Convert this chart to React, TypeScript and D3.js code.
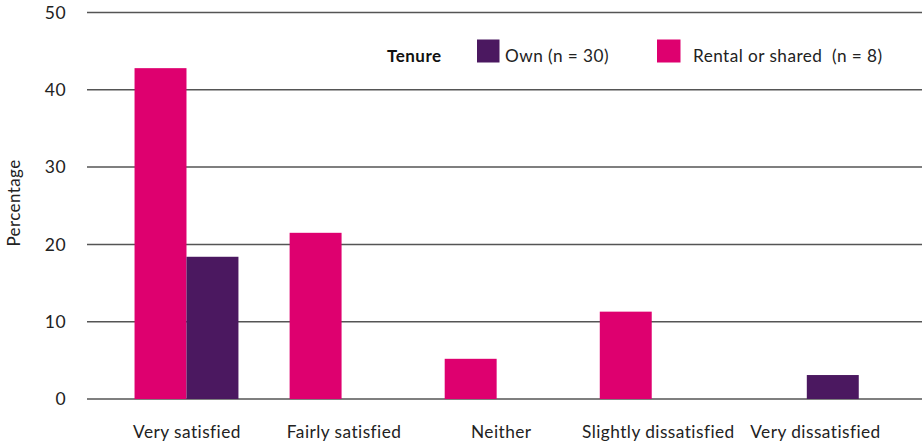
import React from "react";
import * as d3 from "d3";

const categories = ["Very satisfied", "Fairly satisfied", "Neither", "Slightly dissatisfied", "Very dissatisfied"];
const seriesKeys = ["Rental", "Own"];
const rentalValues = [42.8, 21.5, 5.2, 11.3, 0];
const ownValues = [18.4, 0, 0, 0, 3.1];
const yTicks = [0, 10, 20, 30, 40, 50];
const legendTitle = "Tenure";
const legendLabels = ["Own (n = 30)", "Rental or shared  (n = 8)"];

const W = 924;
const H = 446;
const PINK = "#DE006F";
const PURPLE = "#4B1860";
const FONT = "Lato, 'Open Sans', sans-serif";
const LS = 0.45;

export default function App() {
  const y = d3.scaleLinear().domain([0, 50]).range([399, 12.5]);
  const x0 = d3.scaleBand().domain(categories).range([108.95, 884.35]).paddingInner(0.33).paddingOuter(0.165);
  const x1 = d3.scaleBand().domain(seriesKeys).range([0, x0.bandwidth()]);
  const xLabel = d3.scalePoint().domain(categories).range([187, 815.5]);
  const colors: Record<string, string> = { Rental: PINK, Own: PURPLE };
  const values: Record<string, number[]> = { Rental: rentalValues, Own: ownValues };

  return (
    <svg width={W} height={H} style={{ position: "absolute", left: 0, top: 0, background: "#fff" }} fontFamily={FONT}>
      {yTicks.map((t) => (
        <g key={t}>
          <line x1={87} x2={922} y1={y(t)} y2={y(t)} stroke="#555" strokeWidth={1.5} />
          <text x={66} y={y(t)} dy="0.36em" textAnchor="end" fontSize={17.5} fill="#222" letterSpacing={LS}>{t}</text>
        </g>
      ))}
      {categories.map((c, i) => (
        <g key={c} transform={`translate(${x0(c)},0)`}>
          {seriesKeys.map((k) => {
            const v = values[k][i];
            if (!v) return null;
            return <rect key={k} x={x1(k)} y={y(v)} width={x1.bandwidth()} height={y(0) - y(v)} fill={colors[k]} />;
          })}
        </g>
      ))}
      {categories.map((c) => (
        <text key={c} x={xLabel(c)} y={437.5} textAnchor="middle" fontSize={17.3} fill="#222" letterSpacing={LS}>{c}</text>
      ))}
      <text transform={`translate(19.5,203) rotate(-90)`} textAnchor="middle" fontSize={17} fill="#222" letterSpacing={0.4}>Percentage</text>
      <g>
        <text x={387} y={62} fontSize={17} fontWeight="bold" fill="#111" letterSpacing={0.5}>{legendTitle}</text>
        <rect x={477} y={39.5} width={22.5} height={23} fill={PURPLE} />
        <text x={505} y={61.5} fontSize={17.2} fill="#222" letterSpacing={LS}>{legendLabels[0]}</text>
        <rect x={657} y={39.5} width={23.5} height={23} fill={PINK} />
        <text x={693} y={61.5} fontSize={17.2} fill="#222" letterSpacing={LS} style={{ whiteSpace: "pre" }}>{legendLabels[1]}</text>
      </g>
    </svg>
  );
}
